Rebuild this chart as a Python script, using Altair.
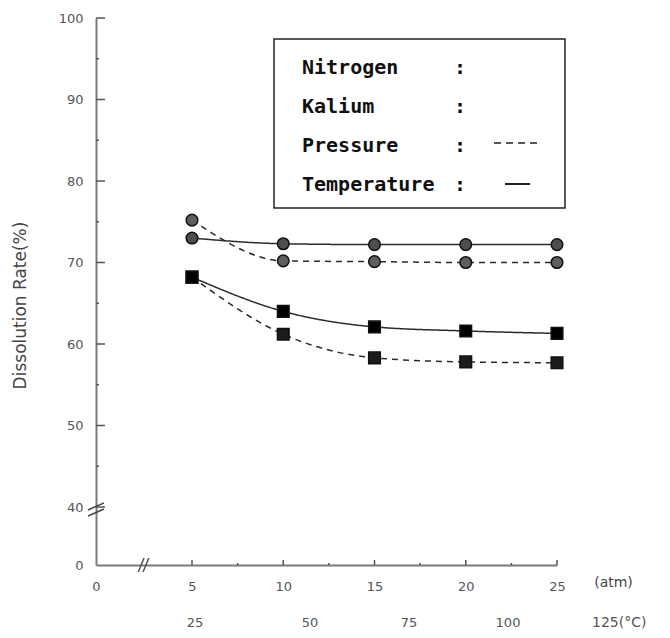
import altair as alt
import pandas as pd

# ---- data ----
pressure_atm = [5, 10, 15, 20, 25]
nitrogen_pressure = [75.2, 70.2, 70.1, 70.0, 70.0]
nitrogen_temperature = [73.0, 72.3, 72.2, 72.2, 72.2]
kalium_pressure = [68.2, 61.2, 58.3, 57.8, 57.7]
kalium_temperature = [68.2, 64.0, 62.1, 61.6, 61.3]

x_tick_values = [0, 5, 10, 15, 20, 25]
x_minor_ticks = [7.5, 12.5, 17.5, 22.5]
x_major_ticks = [5, 10, 15, 20, 25]
y_tick_values = [0, 40, 50, 60, 70, 80, 90, 100]
y_major_ticks = [40, 50, 60, 70, 80, 90, 100]
y_minor_ticks = [45, 55, 65, 75, 85, 95]
temp_ticks = [25, 50, 75, 100, 125]
temp_labels = ["25", "50", "75", "100", "125(°C)"]
legend_labels = ["Nitrogen", "Kalium", "Pressure", "Temperature"]

rows = []
for el, cond, vals in [
    ("Nitrogen", "Pressure", nitrogen_pressure),
    ("Nitrogen", "Temperature", nitrogen_temperature),
    ("Kalium", "Pressure", kalium_pressure),
    ("Kalium", "Temperature", kalium_temperature),
]:
    for a, v in zip(pressure_atm, vals):
        rows.append({"element": el, "condition": cond, "series": f"{el}-{cond}", "atm": a, "rate": v})
df = pd.DataFrame(rows)

W, H = 479, 547
AX = "#7a7a7a"
LAB = "#555555"
FONT = "DejaVu Sans"

x_scale = alt.Scale(domain=[0, 5, 25], range=[0, 96, 461], nice=False, zero=False)
y_scale = alt.Scale(domain=[0, 40, 100], range=[H, 489, 0], nice=False, zero=False)
t_scale = alt.Scale(domain=[25, 50, 125], range=[99, 214, 511], nice=False, zero=False)

x_enc = alt.X("atm:Q", scale=x_scale, axis=alt.Axis(
    values=x_tick_values, title="(atm)", grid=False, ticks=False, tickSize=0,
    domainColor=AX, domainWidth=2, labelColor=LAB, labelFont=FONT, labelFontSize=13,
    labelPadding=15, labelFlush=False, titleX=517, titleY=17, titleAlign="center",
    titleBaseline="middle", titleFont=FONT, titleFontSize=14, titleFontWeight="normal",
    titleColor="#444444"))
y_enc = alt.Y("rate:Q", scale=y_scale, axis=alt.Axis(
    values=y_tick_values, title="Dissolution Rate(%)", grid=False, ticks=False, tickSize=0,
    domainColor=AX, domainWidth=2, labelColor=LAB, labelFont=FONT, labelFontSize=13,
    labelPadding=13, labelFlush=False, titleX=-76, titleY=287, titleAngle=270,
    titleAlign="center", titleBaseline="middle", titleFont=FONT, titleFontSize=17,
    titleFontWeight="normal", titleColor="#444444"))

lines = alt.Chart(df).mark_line(interpolate="monotone", color="#2a2a2a", strokeWidth=1.5).encode(
    x=x_enc, y=y_enc, detail="series:N",
    strokeDash=alt.StrokeDash("condition:N", scale=alt.Scale(domain=["Pressure", "Temperature"],
                                                             range=[[6, 5], [1, 0]]), legend=None),
)

points = alt.Chart(df).mark_point(filled=True, size=135, stroke="#111111", strokeWidth=1.5, opacity=1).encode(
    x=alt.X("atm:Q", scale=x_scale, axis=None),
    y=alt.Y("rate:Q", scale=y_scale, axis=None),
    shape=alt.Shape("element:N", scale=alt.Scale(domain=["Nitrogen", "Kalium"], range=["circle", "square"]), legend=None),
    fill=alt.Fill("series:N", scale=alt.Scale(
        domain=["Nitrogen-Pressure", "Nitrogen-Temperature", "Kalium-Pressure", "Kalium-Temperature"],
        range=["#5e5e5e", "#4e4e4e", "#1c1c1c", "#000000"]), legend=None),
)

# inward ticks
y_major = alt.Chart(pd.DataFrame({"v": y_major_ticks})).mark_rule(color="#555", strokeWidth=1.5).encode(
    y=alt.Y("v:Q", scale=y_scale, axis=None), x=alt.value(0), x2=alt.value(9))
y_minor = alt.Chart(pd.DataFrame({"v": y_minor_ticks})).mark_rule(color="#555", strokeWidth=1.5).encode(
    y=alt.Y("v:Q", scale=y_scale, axis=None), x=alt.value(0), x2=alt.value(3))
x_major = alt.Chart(pd.DataFrame({"v": x_major_ticks})).mark_rule(color="#555", strokeWidth=1.5).encode(
    x=alt.X("v:Q", scale=x_scale, axis=None), y=alt.value(H), y2=alt.value(H - 5))
x_minor = alt.Chart(pd.DataFrame({"v": x_minor_ticks})).mark_rule(color="#555", strokeWidth=1.5).encode(
    x=alt.X("v:Q", scale=x_scale, axis=None), y=alt.value(H), y2=alt.value(H - 2))

# axis break marks
x_break = alt.Chart(pd.DataFrame({"a": [2.2, 2.45], "b": [2.5, 2.75]})).mark_rule(color="#555", strokeWidth=1.5).encode(
    x=alt.X("a:Q", scale=x_scale, axis=None), x2="b:Q", y=alt.value(H + 7), y2=alt.value(H - 7))
y_break = alt.Chart(pd.DataFrame({"a": [37.9, 33.8], "b": [40.5, 38.6]})).mark_rule(color="#444", strokeWidth=1.5).encode(
    y=alt.Y("a:Q", scale=y_scale, axis=None), y2="b:Q", x=alt.value(-8), x2=alt.value(8))

# temperature axis labels
tdf = pd.DataFrame({"temp": temp_ticks, "label": temp_labels})
temp_text = alt.Chart(tdf).transform_filter("datum.temp < 125").mark_text(
    align="center", baseline="middle", font=FONT, fontSize=13, color=LAB).encode(
    x=alt.X("temp:Q", scale=t_scale, axis=None), y=alt.value(605), text="label:N")
temp_last = alt.Chart(tdf).transform_filter("datum.temp == 125").mark_text(
    align="left", baseline="middle", font=FONT, fontSize=14, color=LAB, dx=-15).encode(
    x=alt.X("temp:Q", scale=t_scale, axis=None), y=alt.value(605), text="label:N")

# legend box
box = alt.Chart(pd.DataFrame({"k": [0]})).mark_rect(fill="white", stroke="#222", strokeWidth=1.5).encode(
    x=alt.value(178), x2=alt.value(469), y=alt.value(21), y2=alt.value(190))
legend_layers = []
LFONT = "DejaVu Sans Mono"
for i, lab in enumerate(legend_labels):
    yy = 56 + i * 39
    legend_layers.append(alt.Chart(pd.DataFrame({"t": [lab]})).mark_text(
        align="left", baseline="alphabetic", font=LFONT, fontSize=20, fontWeight="bold", color="#111").encode(
        text="t:N", x=alt.value(206), y=alt.value(yy)))
    legend_layers.append(alt.Chart(pd.DataFrame({"t": [":"]})).mark_text(
        align="center", baseline="alphabetic", font=LFONT, fontSize=20, fontWeight="bold", color="#111").encode(
        text="t:N", x=alt.value(364), y=alt.value(yy)))
dash_sample = alt.Chart(pd.DataFrame({"k": [0]})).mark_rule(color="#222", strokeWidth=1.5, strokeDash=[7, 5]).encode(
    x=alt.value(398), x2=alt.value(441), y=alt.value(125))
solid_sample = alt.Chart(pd.DataFrame({"k": [0]})).mark_rule(color="#222", strokeWidth=2).encode(
    x=alt.value(409), x2=alt.value(434), y=alt.value(166))

chart = alt.layer(
    lines, y_major, y_minor, x_major, x_minor, x_break, y_break, points,
    temp_text, temp_last, box, *legend_layers, dash_sample, solid_sample,
).resolve_scale(x="independent").resolve_axis(x="independent", y="independent").properties(
    width=W, height=H,
    autosize=alt.AutoSizeParams(type="none"),
    padding={"left": 96, "top": 18, "right": 95, "bottom": 73},
    background="white",
).configure_view(stroke=None)

chart.save("out.html", embed_options={"renderer": "svg", "actions": False})
